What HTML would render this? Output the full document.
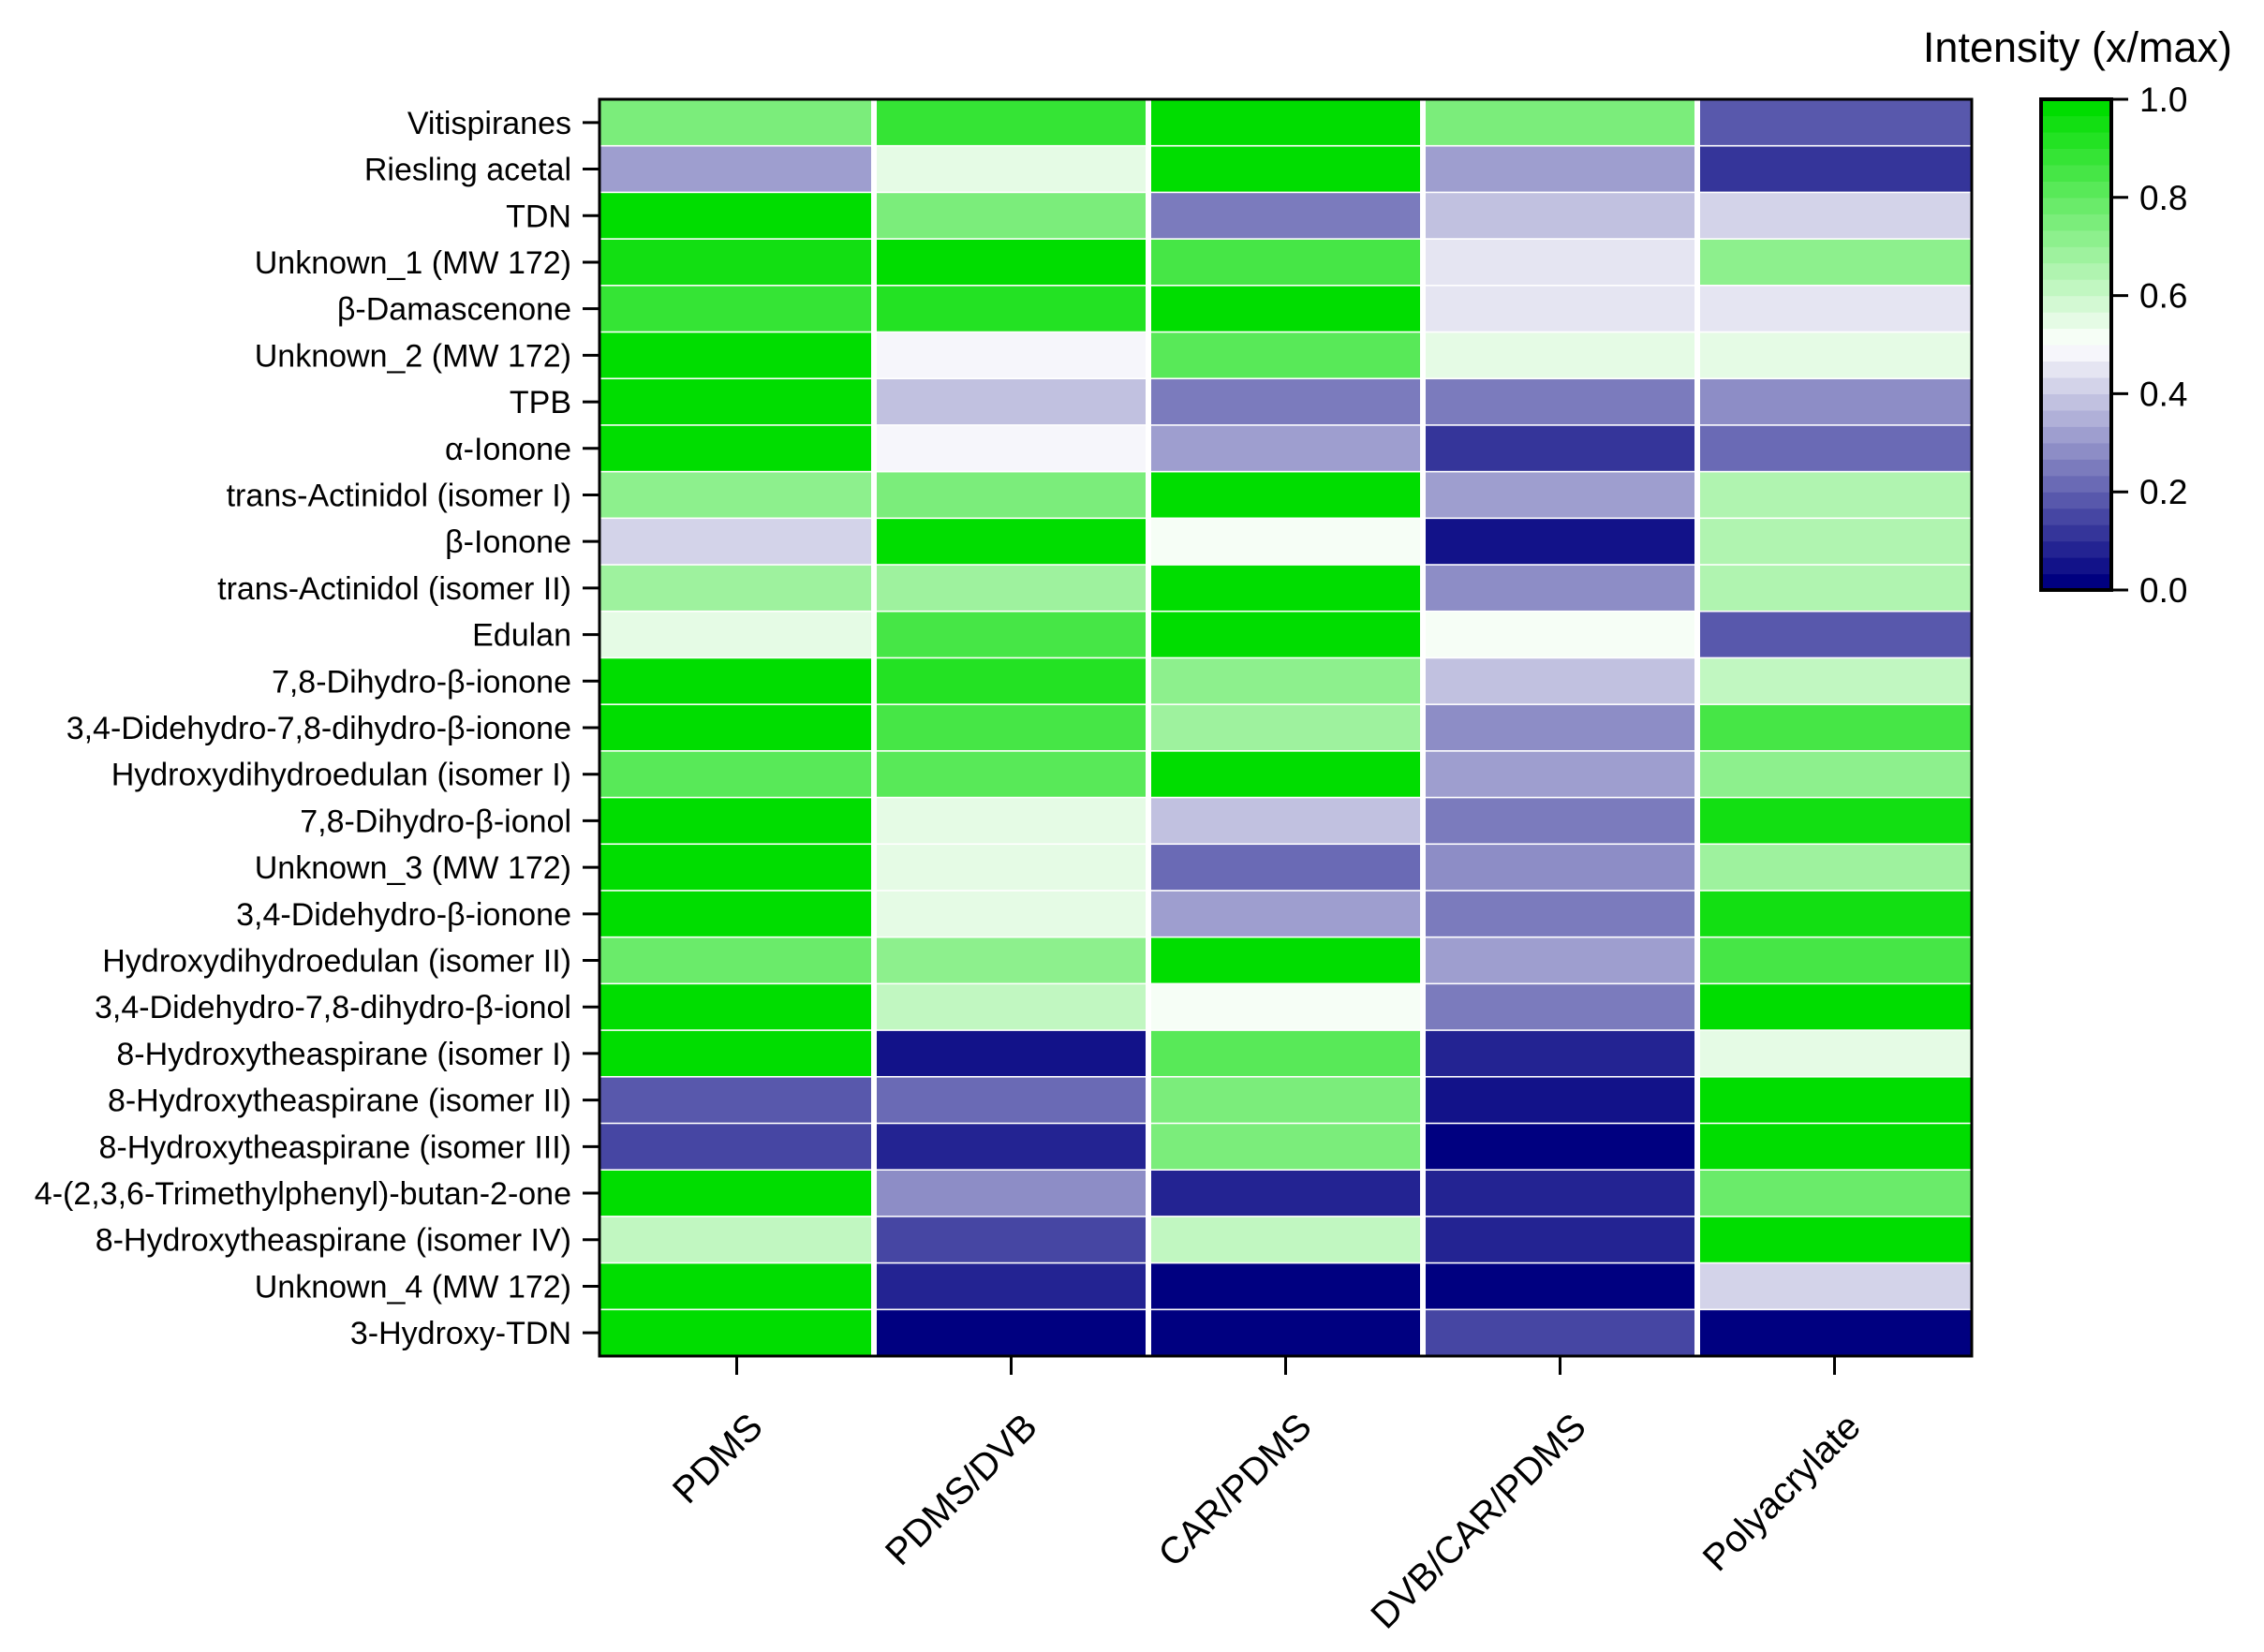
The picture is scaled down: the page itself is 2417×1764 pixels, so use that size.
<!DOCTYPE html>
<html><head><meta charset="utf-8"><style>
html,body{margin:0;padding:0;background:#fff;}
svg text{font-family:"Liberation Sans",Arial,sans-serif;fill:#000;}
</style></head><body>
<svg id="chart" width="2417" height="1759" viewBox="0 0 2417 1759" xmlns="http://www.w3.org/2000/svg">
<g id="cells"></g>
<g id="yaxis"></g>
<g id="xaxis"></g>
<rect x="640" y="106" width="1465" height="1342" fill="none" stroke="#000" stroke-width="3"/>
<g id="cbar"></g>
<text x="2383" y="66" font-size="45" text-anchor="end">Intensity (x/max)</text>
</svg>
<script>
const compounds=["Vitispiranes","Riesling acetal","TDN","Unknown_1 (MW 172)","β-Damascenone","Unknown_2 (MW 172)","TPB","α-Ionone","trans-Actinidol (isomer I)","β-Ionone","trans-Actinidol (isomer II)","Edulan","7,8-Dihydro-β-ionone","3,4-Didehydro-7,8-dihydro-β-ionone","Hydroxydihydroedulan (isomer I)","7,8-Dihydro-β-ionol","Unknown_3 (MW 172)","3,4-Didehydro-β-ionone","Hydroxydihydroedulan (isomer II)","3,4-Didehydro-7,8-dihydro-β-ionol","8-Hydroxytheaspirane (isomer I)","8-Hydroxytheaspirane (isomer II)","8-Hydroxytheaspirane (isomer III)","4-(2,3,6-Trimethylphenyl)-butan-2-one","8-Hydroxytheaspirane (isomer IV)","Unknown_4 (MW 172)","3-Hydroxy-TDN"];
const fibers=["PDMS","PDMS/DVB","CAR/PDMS","DVB/CAR/PDMS","Polyacrylate"];
const valPDMS=[0.76,0.30,1.0,0.96,0.88,1.0,1.0,1.0,0.72,0.40,0.67,0.56,1.0,1.0,0.82,1.0,1.0,1.0,0.78,1.0,1.0,0.17,0.14,1.0,0.62,1.0,1.0];
const valPDMSDVB=[0.88,0.56,0.75,1.0,0.92,0.47,0.37,0.47,0.74,1.0,0.67,0.85,0.92,0.85,0.82,0.56,0.56,0.56,0.72,0.60,0.04,0.20,0.07,0.27,0.14,0.07,0.0];
const valCAR=[1.0,1.0,0.24,0.85,1.0,0.82,0.24,0.33,1.0,0.52,1.0,1.0,0.72,0.68,1.0,0.37,0.20,0.33,1.0,0.52,0.82,0.74,0.76,0.07,0.62,0.0,0.0];
const valDVBCAR=[0.76,0.33,0.37,0.44,0.44,0.56,0.24,0.10,0.33,0.04,0.27,0.52,0.37,0.27,0.33,0.24,0.27,0.24,0.33,0.24,0.07,0.04,0.0,0.07,0.07,0.0,0.14];
const valPA=[0.17,0.10,0.40,0.72,0.44,0.56,0.27,0.20,0.64,0.64,0.64,0.17,0.60,0.85,0.72,0.94,0.67,0.94,0.85,1.0,0.56,1.0,1.0,0.78,1.0,0.40,0.0];
const series=[valPDMS,valPDMSDVB,valCAR,valDVBCAR,valPA];
const cbTicks=[0,0.2,0.4,0.6,0.8,1.0];
const cbTickLabels=["0.0","0.2","0.4","0.6","0.8","1.0"];

const NS="http://www.w3.org/2000/svg";
const L=640,R=2105,T=106,B=1448;
const colW=(R-L)/fibers.length,rowH=(B-T)/compounds.length;
const xCenter=i=>L+colW*(i+0.5);
const yTop=j=>T+rowH*j;
const NB=30;
function color(v){
  let q=Math.min(NB-1,Math.floor(v*NB))/(NB-1);
  let r,g,b;
  if(q<0.5){const t=q/0.5;r=255*t;g=255*t;b=128+127*t;}
  else{const t=(q-0.5)/0.5;r=255*(1-t);g=255-34*t;b=255*(1-t);}
  return `rgb(${Math.round(r)},${Math.round(g)},${Math.round(b)})`;
}
function mk(tag,attrs,parent){const e=document.createElementNS(NS,tag);for(const k in attrs)e.setAttribute(k,attrs[k]);parent.appendChild(e);return e;}
const cells=document.getElementById('cells');
series.forEach((vals,i)=>{vals.forEach((v,j)=>{
  const r=mk('rect',{x:L+colW*i+(i>0?3:0),y:yTop(j)+(j>0?0.8:0),width:colW-(i>0?3:0)-(i<fibers.length-1?3:0),height:rowH-(j>0?0.8:0)-(j<compounds.length-1?0.8:0),fill:color(v)},cells);
  
  
});});
const ya=document.getElementById('yaxis');
compounds.forEach((c,j)=>{
  const y=yTop(j)+rowH/2;
  const ln=mk('line',{x1:622,x2:640,y1:y,y2:y,stroke:'#000','stroke-width':3},ya);
  
  
  const t=mk('text',{x:610,y:y+12,'font-size':34,'text-anchor':'end'},ya);
  t.textContent=c;
  
  
});
const xa=document.getElementById('xaxis');
fibers.forEach((f,i)=>{
  const x=xCenter(i);
  const ln=mk('line',{x1:x,x2:x,y1:B,y2:B+20,stroke:'#000','stroke-width':3},xa);
  
  
  const t=mk('text',{x:x+30,y:1526,'font-size':40,'text-anchor':'end',transform:`rotate(-45 ${x+30} 1526)`},xa);
  t.textContent=f;
  
  
});
const cb=document.getElementById('cbar');
const CL=2179,CR=2254,CT=106,CB=630;
const cy=v=>CB-(CB-CT)*v;
for(let k=0;k<NB;k++){
  const v0=k/NB,v1=(k+1)/NB;
  const r=mk('rect',{x:CL,y:cy(v1),width:CR-CL,height:cy(v0)-cy(v1)+0.6,fill:color((k+0.5)/NB)},cb);
  
  
}
const fr=mk('rect',{x:CL,y:CT,width:CR-CL,height:CB-CT,fill:'none',stroke:'#000','stroke-width':4},cb);


cbTicks.forEach((v,k)=>{
  const y=cy(v);
  const ln=mk('line',{x1:CR,x2:CR+18,y1:y,y2:y,stroke:'#000','stroke-width':3},cb);
  
  
  const t=mk('text',{x:CR+30,y:y+13,'font-size':37},cb);
  t.textContent=cbTickLabels[k];
  
  
});
</script>
</body></html>
